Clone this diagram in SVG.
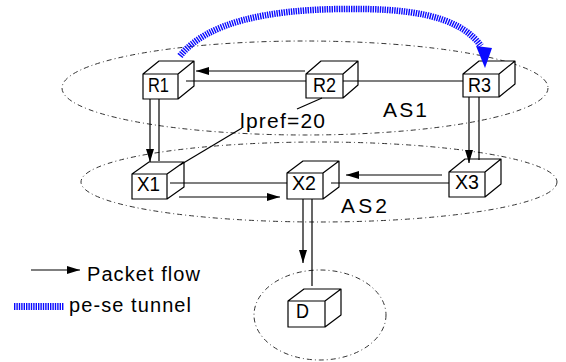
<svg xmlns="http://www.w3.org/2000/svg" width="566" height="362" viewBox="0 0 566 362">
<style>
.bg{fill:#fff}
.as{fill:none;stroke:#333;stroke-width:1;stroke-dasharray:5 3 1 3}
.cube{fill:#fff;stroke:#000;stroke-width:1.2;stroke-linejoin:round}
.ln{fill:none;stroke:#000;stroke-width:1.2}
.arr{fill:none;stroke:#000;stroke-width:1.2;marker-end:url(#ah)}
.tun{fill:none;stroke:#0a0aff;stroke-width:6.5;stroke-dasharray:1.4 1}
text{font-family:"Liberation Sans",Arial,sans-serif;fill:#000}
.lbl{font-size:21px}
.big{font-size:21px}
.leg{font-size:20px}
</style>
<defs>
<marker id="ah" markerUnits="userSpaceOnUse" markerWidth="14" markerHeight="8" refX="13" refY="4" orient="auto">
<path d="M0,0 L13,4 L0,8 Z" fill="#000"/>
</marker>
</defs>
<rect class="bg" x="0" y="0" width="566" height="362"/>
<g id="areas">
<ellipse id="as1" class="as" cx="305" cy="88" rx="243" ry="47"/>
<ellipse id="as2" class="as" cx="319" cy="182" rx="238" ry="40"/>
<ellipse id="dzone" class="as" cx="320" cy="315" rx="66" ry="45"/>
<text class="big" x="383" y="117" textLength="44" lengthAdjust="spacing">AS1</text>
<text class="big" x="341" y="213" textLength="46" lengthAdjust="spacing">AS2</text>
</g>
<g id="R1"><path class="cube" d="M143,74 L159,61 L194,61 L194,86 L178,99 L143,99 Z M143,74 H178 V99 M178,74 L194,61"/><text class="lbl" x="148" y="92" textLength="21" lengthAdjust="spacingAndGlyphs">R1</text></g>
<g id="R2"><path class="cube" d="M306,74 L321,61 L358,61 L358,85 L343,98 L306,98 Z M306,74 H343 V98 M343,74 L358,61"/><text class="lbl" x="313" y="92" textLength="23" lengthAdjust="spacingAndGlyphs">R2</text></g>
<g id="R3"><path class="cube" d="M463,74 L479,61 L515,61 L515,84 L499,97 L463,97 Z M463,74 H499 V97 M499,74 L515,61"/><text class="lbl" x="468" y="92" textLength="23" lengthAdjust="spacingAndGlyphs">R3</text></g>
<g id="X1"><path class="cube" d="M132,174 L149,162 L184,162 L184,187 L167,199 L132,199 Z M132,174 H167 V199 M167,174 L184,162"/><text class="lbl" x="137" y="191" textLength="23" lengthAdjust="spacingAndGlyphs">X1</text></g>
<g id="X2"><path class="cube" d="M287,173 L303,161 L339,161 L339,187 L323,199 L287,199 Z M287,173 H323 V199 M323,173 L339,161"/><text class="lbl" x="292" y="190" textLength="24" lengthAdjust="spacingAndGlyphs">X2</text></g>
<g id="X3"><path class="cube" d="M449,172 L465,159 L501,159 L501,184 L485,197 L449,197 Z M449,172 H485 V197 M485,172 L501,159"/><text class="lbl" x="455" y="189" textLength="24" lengthAdjust="spacingAndGlyphs">X3</text></g>
<g id="D"><path class="cube" d="M288,301 L304,289 L341,289 L341,315 L325,327 L288,327 Z M288,301 H325 V327 M325,301 L341,289"/><text class="lbl" x="296" y="318" textLength="13" lengthAdjust="spacingAndGlyphs">D</text></g>
<g id="connectors">
<path class="arr" d="M305,71 L196,71"/>
<path class="ln" d="M186,81 L306,81"/>
<path class="ln" d="M343,81 L463,81"/>
<path class="arr" d="M150,99 L150,162"/>
<path class="ln" d="M159,99 L159,161"/>
<path class="arr" d="M179,197 L280,197"/>
<path class="ln" d="M170,183 L287,183"/>
<path class="arr" d="M442,175 L346,175"/>
<path class="ln" d="M331,183 L449,183"/>
<path class="arr" d="M469,97 L469,163"/>
<path class="ln" d="M479,97 L479,160"/>
<path class="arr" d="M303,199 L303,263"/>
<path class="ln" d="M312,199 L312,286"/>
<path class="ln" d="M322,98 L297,109"/>
<path class="ln" d="M242,128 L180,165"/>
<path class="tun" d="M180,56 C207,22 268,10 340,9 C405,8 458,14 481,46"/>
<path d="M476,46 L492,48 L485,68 Z" fill="#0a0aff"/>
</g>
<text class="big" x="240" y="128" textLength="85" lengthAdjust="spacing">lpref=20</text>
<g id="legend">
<path class="arr" d="M31,270 L80,270"/>
<text class="leg" x="87" y="281" textLength="113" lengthAdjust="spacing">Packet flow</text>
<path class="tun" d="M14,306.5 L64,306.5" style="stroke-width:7"/>
<text class="leg" x="69" y="312" textLength="122" lengthAdjust="spacing">pe-se tunnel</text>
</g>
</svg>
